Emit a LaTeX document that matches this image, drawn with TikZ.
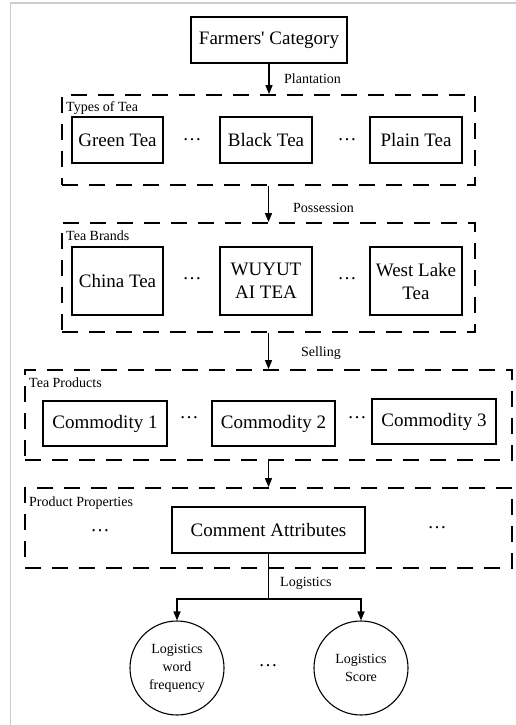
\documentclass[tikz,border=0pt]{standalone}
\usepackage{fontspec}
\setmainfont{Liberation Serif}
\usetikzlibrary{arrows.meta}
\definecolor{framegray}{RGB}{200,205,214}

\tikzset{
  box/.style={draw, line width=1.1pt, inner sep=0pt, align=center, font=\fontsize{19}{23}\selectfont},
  group/.style={draw, line width=1.8pt, dash pattern=on 16pt off 11pt, inner sep=0pt},
  tag/.style={anchor=west, inner sep=0pt, font=\fontsize{14}{16}\selectfont},
  more/.style={inner sep=0pt, font=\fontsize{19}{23}\selectfont},
  leaf/.style={draw, circle, line width=1.1pt, minimum size=94pt, inner sep=0pt, align=center, font=\fontsize{14}{18}\selectfont},
  flow/.style={line width=1.5pt, -{Triangle[length=9pt,width=7pt]}},
}

\begin{document}
\begin{tikzpicture}[x=1pt,y=-1pt]
  \useasboundingbox (0,0) rectangle (516,725);
  \draw[framegray, line width=1.2pt] (10.5,725) -- (10.5,3) -- (516,3);

  \node[group, minimum width=413pt, minimum height=90pt] (types) at (268.5,140) {};
  \node[group, minimum width=413pt, minimum height=109pt] (brands) at (268.5,277.5) {};
  \node[group, minimum width=487pt, minimum height=90pt] (products) at (268.5,415) {};
  \node[group, minimum width=487pt, minimum height=80pt] (props) at (268.5,528) {};

  \node[tag] (typesTag) at (66,108) {Types of Tea};
  \node[tag] (brandsTag) at (66,236) {Tea Brands};
  \node[tag] (productsTag) at (29,383) {Tea Products};
  \node[tag] (propsTag) at (29,503) {Product Properties};

  \node[box, minimum width=156pt, minimum height=46pt] (farmers) at (269,40) {Farmers\textquotesingle{} Category};

  \node[box, minimum width=91pt, minimum height=46pt] (green) at (117.5,140) {Green Tea};
  \node[more] (dotsA) at (192,140) {\dots};
  \node[box, minimum width=92pt, minimum height=46pt] (black) at (266,140) {Black Tea};
  \node[more] (dotsB) at (347,140) {\dots};
  \node[box, minimum width=92pt, minimum height=46pt] (plain) at (416,140) {Plain Tea};

  \node[box, minimum width=91pt, minimum height=68pt] (china) at (117.5,281) {China Tea};
  \node[more] (dotsC) at (192,279) {\dots};
  \node[box, minimum width=92pt, minimum height=68pt] (wuyut) at (266,281) {WUYUT\\AI TEA};
  \node[more] (dotsD) at (347,279) {\dots};
  \node[box, minimum width=92pt, minimum height=68pt] (westlake) at (416,281) {West Lake\\Tea};

  \node[box, minimum width=124pt, minimum height=45pt] (com1) at (105,423.5) {Commodity 1};
  \node[more] (dotsE) at (189,418) {\dots};
  \node[box, minimum width=123pt, minimum height=45pt] (com2) at (273.5,423.5) {Commodity 2};
  \node[more] (dotsF) at (357,418) {\dots};
  \node[box, minimum width=124pt, minimum height=45pt] (com3) at (434,421.5) {Commodity 3};

  \node[more] (dotsG) at (100,531) {\dots};
  \node[box, minimum width=193pt, minimum height=46pt] (comment) at (268.5,530) {Comment Attributes};
  \node[more] (dotsH) at (437,528) {\dots};

  \node[leaf] (freq) at (177,668) {Logistics\\word\\frequency};
  \node[more] (dotsI) at (268,666) {\dots};
  \node[leaf] (score) at (361,668) {Logistics\\Score};

  \draw[flow] (farmers.south) -- (farmers.south |- types.north);
  \draw[flow] (types.south) -- (types.south |- brands.north);
  \draw[flow] (brands.south) -- (brands.south |- products.north);
  \draw[flow] (products.south) -- (products.south |- props.north);

  \node[tag] (plantation) at (284,79) {Plantation};
  \node[tag] (possession) at (293,208) {Possession};
  \node[tag] (selling) at (301,353) {Selling};
  \node[tag] (logistics) at (280,583) {Logistics};

  \coordinate (split) at (268.5,599);
  \draw[line width=1.5pt] (comment.south) -- (split);
  \draw[flow] (split) -| (freq.north);
  \draw[flow] (split) -| (score.north);
\end{tikzpicture}
\end{document}
